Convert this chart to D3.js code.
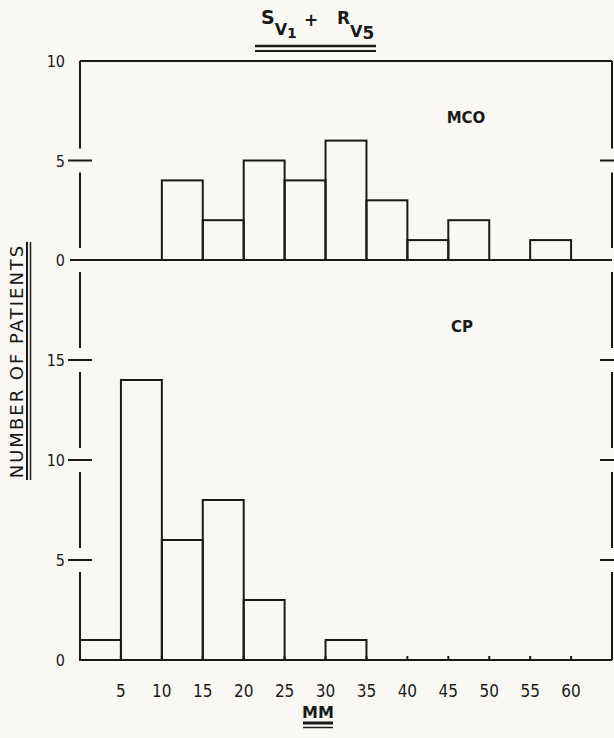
<html>
<head>
<script src="https://d3js.org/d3.v7.min.js"></script>
<style>
  body { margin: 0; background: #f9f8f4; }
  svg text { font-family: "DejaVu Sans", sans-serif; fill: #1a1a1a; }
  .tick { font-stretch: condensed; font-size: 16px; }
</style>
</head>
<body>
<svg width="614" height="738" id="MAINSVG"></svg>
<script>

var binStarts = [0, 5, 10, 15, 20, 25, 30, 35, 40, 45, 50, 55];
var mcoCounts = [0, 0, 4, 2, 5, 4, 6, 3, 1, 2, 0, 1];
var cpCounts  = [1, 14, 6, 8, 3, 0, 1, 0, 0, 0, 0, 0];
var xTickLabels = [5, 10, 15, 20, 25, 30, 35, 40, 45, 50, 55, 60];
var topYTicks = [0, 5, 10];
var botYTicks = [0, 5, 10, 15];
var binWidth = 5;

var SVG = d3.select("#MAINSVG");
var ink = "#1a1a1a";
var lw = 2;

var x = d3.scaleLinear().domain([0, 65]).range([80, 612]);
var yTop = d3.scaleLinear().domain([0, 10]).range([260, 61]);
var yBot = d3.scaleLinear().domain([0, 20]).range([660, 260]);

function seg(x1, y1, x2, y2, w) {
  SVG.append("line")
     .attr("x1", x1).attr("y1", y1)
     .attr("x2", x2).attr("y2", y2)
     .attr("stroke", ink)
     .attr("stroke-width", w || lw);
}

// bars
function drawBars(counts, y) {
  counts.forEach(function(c, i) {
    if (c == 0) return;
    SVG.append("rect")
       .attr("x", x(binStarts[i]))
       .attr("y", y(c))
       .attr("width", x(binStarts[i] + binWidth) - x(binStarts[i]))
       .attr("height", y(0) - y(c))
       .attr("fill", "none")
       .attr("stroke", ink)
       .attr("stroke-width", lw);
  });
}
drawBars(mcoCounts, yTop);
drawBars(cpCounts, yBot);

// frame: top line, baselines
var x0 = x(0), x1 = x(65);
seg(x0, yTop(10), x1, yTop(10));
seg(x0 - 10, yTop(0), x1, yTop(0));
seg(x0, yBot(0), x1, yBot(0));

// little ticks on lower baseline
xTickLabels.forEach(function(v) {
  seg(x(v), yBot(0), x(v), yBot(0) - 4);
});

// side axes, broken around each tick
var gap = 12;
function sideAxis(xa, tickL, tickR) {
  var marks = [];
  topYTicks.forEach(function(v) { if (v > 0 && v < 10) marks.push(yTop(v)); });
  marks.push(yTop(0));
  botYTicks.forEach(function(v) { if (v > 0) marks.push(yBot(v)); });
  marks.sort(function(a, b) { return a - b; });
  var start = yTop(10);
  marks.forEach(function(m) {
    seg(xa, start, xa, m - gap);
    if (m != yTop(0)) seg(xa - tickL, m, xa + tickR, m);
    start = m + gap;
  });
  seg(xa, start, xa, yBot(0));
}
sideAxis(x0, 12, 12);
sideAxis(x1, 12, 4);

// y tick labels
topYTicks.forEach(function(v) {
  SVG.append("text").attr("class", "tick").attr("x", 65).attr("y", yTop(v) + 6)
     .attr("text-anchor", "end").text(v);
});
botYTicks.forEach(function(v) {
  SVG.append("text").attr("class", "tick").attr("x", 65).attr("y", yBot(v) + 6)
     .attr("text-anchor", "end").text(v);
});

// x tick labels
xTickLabels.forEach(function(v) {
  SVG.append("text").attr("class", "tick").attr("x", x(v)).attr("y", 697)
     .attr("text-anchor", "middle").style("font-size", "17px").text(v);
});

// panel labels
SVG.append("text").attr("x", 466).attr("y", 123).attr("text-anchor", "middle")
   .style("font-size", "15px").style("font-weight", "bold").text("MCO");
SVG.append("text").attr("x", 462).attr("y", 332).attr("text-anchor", "middle")
   .style("font-size", "15px").style("font-weight", "bold").text("CP");

// title
var t = SVG.append("text").attr("x", 261).attr("y", 24).style("font-weight", "bold");
t.append("tspan").style("font-size", "19px").text("S");
t.append("tspan").attr("dy", 11).style("font-size", "16px").text("V");
t.append("tspan").attr("dy", 3).style("font-size", "14px").text("1");
t.append("tspan").attr("x", 304).attr("y", 26).style("font-size", "17px").text("+");
t.append("tspan").attr("x", 337).attr("y", 24).style("font-size", "17px").text("R");
t.append("tspan").attr("dy", 13).style("font-size", "16px").text("V");
t.append("tspan").attr("dy", 2).style("font-size", "17px").text("5");
seg(255, 46, 376, 46, 2.5);
seg(255, 51, 376, 51, 2);

// y label
SVG.append("text")
   .attr("transform", "translate(23,361) rotate(-90)")
   .attr("text-anchor", "middle")
   .style("font-size", "18px")
   .style("letter-spacing", "2px")
   .text("NUMBER OF PATIENTS");
seg(27, 242, 27, 480, 2);
seg(30.5, 242, 30.5, 480, 1.5);

// x label
SVG.append("text").attr("x", 318).attr("y", 718).attr("text-anchor", "middle")
   .style("font-size", "16px").style("font-weight", "bold").text("MM");
seg(303, 723, 333, 723, 3);
seg(303, 727.5, 333, 727.5, 1.5);

</script>
</body>
</html>
